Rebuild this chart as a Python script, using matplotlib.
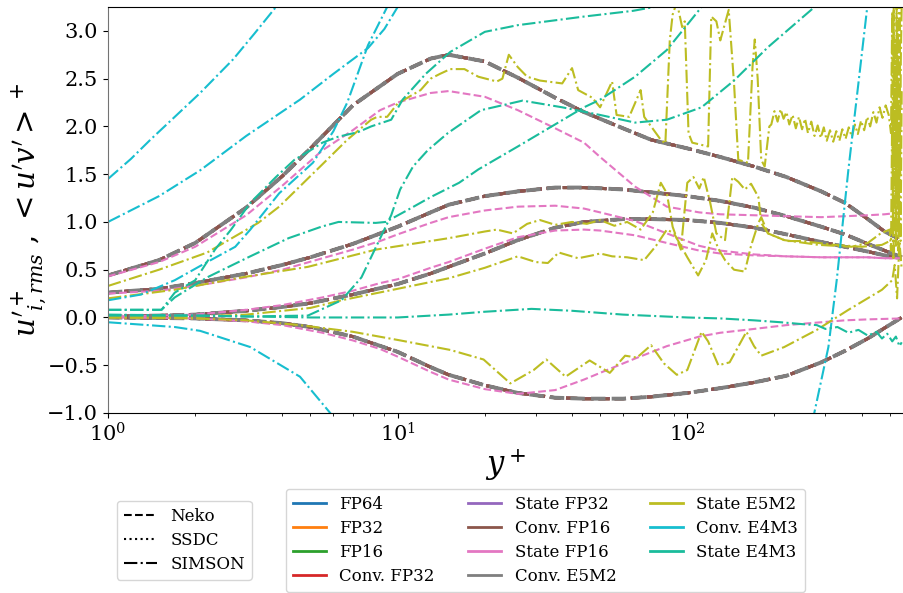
import matplotlib
matplotlib.use("Agg")
import matplotlib.pyplot as plt
from matplotlib.lines import Line2D

plt.rcParams['font.family'] = 'DejaVu Serif'
plt.rcParams['mathtext.fontset'] = 'dejavuserif'

# reference profiles (FP64 ... Conv. E5M2 all collapse on these)
yp_base = [1, 1.5, 2, 3, 4, 5, 7, 10, 13, 15, 20, 26, 35, 44, 60, 75, 100, 130, 170, 220, 290, 350, 420, 480, 550]
u_base = [0.44, 0.60, 0.78, 1.15, 1.48, 1.77, 2.22, 2.55, 2.71, 2.75, 2.68, 2.51, 2.30, 2.15, 1.98, 1.86, 1.77,
          1.68, 1.58, 1.47, 1.32, 1.20, 1.03, 0.90, 0.81]
w_base = [0.26, 0.30, 0.36, 0.46, 0.55, 0.63, 0.77, 0.95, 1.10, 1.18, 1.27, 1.32, 1.36, 1.36, 1.34, 1.31, 1.27,
          1.22, 1.15, 1.06, 0.95, 0.87, 0.77, 0.70, 0.63]
v_base = [0.01, 0.02, 0.03, 0.07, 0.11, 0.15, 0.24, 0.35, 0.46, 0.53, 0.67, 0.81, 0.94, 1.00, 1.03, 1.03, 1.02,
          0.99, 0.94, 0.87, 0.79, 0.74, 0.69, 0.65, 0.62]
uv_base = [0.0, -0.005, -0.01, -0.03, -0.06, -0.10, -0.20, -0.36, -0.52, -0.60, -0.71, -0.79, -0.84, -0.85, -0.85,
           -0.83, -0.79, -0.74, -0.68, -0.61, -0.47, -0.35, -0.22, -0.11, 0.0]

# State FP16
yp_sf16 = [1, 1.5, 2, 3, 4, 5.5, 7, 8.7, 10, 13, 15, 20, 26, 35, 44, 50, 66, 85, 110, 130, 170, 220, 290, 350, 420, 480, 550]
u_sf16 = [0.43, 0.58, 0.74, 1.07, 1.38, 1.75, 1.96, 2.17, 2.25, 2.35, 2.37, 2.31, 2.17, 1.98, 1.83, 1.68, 1.37, 1.16,
          1.10, 1.08, 1.07, 1.06, 1.05, 1.06, 1.07, 1.08, 1.10]
w_sf16 = [0.25, 0.28, 0.33, 0.42, 0.50, 0.62, 0.71, 0.80, 0.87, 0.99, 1.05, 1.12, 1.16, 1.17, 1.14, 1.10, 1.01, 0.88,
          0.75, 0.70, 0.66, 0.64, 0.63, 0.63, 0.63, 0.62, 0.62]
v_sf16 = [0.01, 0.02, 0.03, 0.08, 0.13, 0.21, 0.28, 0.36, 0.40, 0.52, 0.58, 0.72, 0.84, 0.91, 0.92, 0.91, 0.86, 0.78,
          0.70, 0.67, 0.65, 0.64, 0.63, 0.63, 0.63, 0.62, 0.62]
uv_sf16 = [0.0, -0.005, -0.01, -0.04, -0.08, -0.16, -0.24, -0.33, -0.41, -0.57, -0.65, -0.75, -0.80, -0.76, -0.65,
           -0.58, -0.43, -0.30, -0.20, -0.16, -0.12, -0.08, -0.05, -0.03, -0.02, -0.015, -0.01]

# State E5M2
yp_se5_u = [1, 1.5, 2.2, 3.3, 3.9, 5.4, 6.7, 8.1, 8.5, 9.2, 10, 12, 13, 14, 15.2, 17, 19, 22, 23, 24.2, 26, 28, 31,
            37, 40, 42, 47, 50, 55, 57, 63, 69, 71, 81, 84, 87, 89, 92, 96, 98, 101, 104, 118, 121, 126, 130, 139,
            145, 150, 162, 168, 171, 175, 180, 185, 192,
            195, 200, 205, 210, 215, 220, 225, 231, 237, 243, 249, 255, 261, 268, 275, 282, 289, 296, 303, 311, 319,
            327, 335, 343, 352, 361, 370, 379, 388, 398, 408, 418, 428, 439, 450, 461, 472, 484, 496,
            505, 510, 513, 516, 519, 522, 525, 528, 531, 534, 537, 540, 543, 546, 550]
u_se5 = [0.33, 0.50, 0.68, 0.99, 1.16, 1.58, 1.86, 2.07, 2.10, 2.10, 2.24, 2.38, 2.50, 2.55, 2.60, 2.60, 2.52, 2.47,
         2.50, 2.75, 2.62, 2.52, 2.48, 2.45, 2.61, 2.38, 2.30, 2.20, 2.47, 2.12, 2.10, 2.38, 2.10, 1.86, 1.82, 2.90,
         3.17, 3.30, 3.04, 3.10, 1.93, 1.83, 1.79, 3.15, 3.10, 2.90, 3.22, 2.45, 1.65, 1.62, 2.63, 2.91, 2.50, 1.65,
         1.58, 2.00,
         2.02, 2.16, 2.05, 2.18, 2.08, 2.15, 2.02, 2.12, 1.98, 2.10, 1.97, 2.08, 1.93, 2.05, 1.90, 2.01, 1.88, 1.99,
         1.85, 1.96, 1.84, 1.95, 1.85, 1.97, 1.87, 1.99, 1.89, 2.02, 1.92, 2.06, 1.96, 2.10, 2.00, 2.15, 2.04, 2.20,
         2.09, 2.22, 2.12,
         1.93, 3.20, 0.90, 3.25, 1.60, 2.90, 0.75, 3.30, 1.20, 3.10, 0.90, 3.30, 1.50, 2.70, 3.30]
yp_se5_w = [1, 1.7, 2.9, 4.9, 8.4, 15, 20, 22, 25, 28, 31, 35, 40, 45, 50, 56, 62, 69, 76, 81, 85, 89, 95, 100, 105,
            110, 114, 120, 126, 135, 143, 150, 158, 166, 176, 180, 190, 216, 284, 369, 420, 465, 500,
            505, 510, 515, 520, 525, 530, 535, 540, 545, 550]
w_se5 = [0.20, 0.29, 0.42, 0.53, 0.71, 0.83, 0.90, 0.92, 0.88, 0.98, 1.02, 0.97, 1.00, 0.98, 1.02, 0.96, 1.00, 0.92,
         1.10, 1.41, 1.30, 0.95, 0.71, 1.41, 1.47, 1.35, 1.47, 1.20, 0.88, 0.81, 1.47, 1.42, 1.34, 1.40, 1.26, 0.99,
         0.88, 0.81, 0.76, 0.74, 0.78, 0.88, 0.92,
         0.70, 2.20, 0.60, 1.80, 0.90, 2.50, 0.70, 1.60, 0.80, 2.40]
yp_se5_v = [1, 2, 3, 5, 6.4, 10, 15, 20, 26, 30, 33, 36, 42, 47, 50, 55, 62, 71, 78, 85, 90, 100, 109, 116, 122,
            128, 135, 145, 158, 166, 176, 180, 190, 220, 248, 322, 400, 470, 500]
v_se5 = [0.0, 0.01, 0.03, 0.10, 0.18, 0.30, 0.41, 0.52, 0.64, 0.58, 0.57, 0.68, 0.62, 0.65, 0.67, 0.64, 0.63, 0.60,
         0.75, 0.92, 0.88, 0.63, 0.44, 0.60, 0.88, 0.72, 0.60, 0.50, 0.48, 0.75, 0.99, 1.05, 0.88, 0.80, 0.80, 0.76,
         0.74, 0.76, 0.80]
yp_se5_uv = [1, 2, 3, 4.6, 7, 10.2, 15.2, 19.8, 24.5, 29.5, 32.6, 38, 46, 54, 61, 67, 75, 83, 92, 100, 112, 118,
             128, 140, 160, 170, 180, 216, 280, 360, 470, 510, 520, 530, 540, 550]
uv_se5 = [0.0, -0.01, -0.03, -0.08, -0.15, -0.24, -0.34, -0.44, -0.69, -0.55, -0.44, -0.62, -0.45, -0.58, -0.40,
          -0.42, -0.29, -0.48, -0.60, -0.55, -0.15, -0.25, -0.50, -0.47, -0.15, -0.30, -0.40, -0.31, -0.13, 0.08,
          0.29, 0.39, 0.55, 0.20, 0.80, 0.50]

# Conv. E4M3
yp_ce4_a = [1, 1.2, 1.4, 1.7, 2.08, 2.7, 3.2, 3.8, 4.2]
a_ce4 = [1.45, 1.66, 1.86, 2.10, 2.35, 2.70, 2.97, 3.25, 3.45]
yp_ce4_b = [1, 1.5, 2.08, 3, 4.6, 6, 7.9, 9, 10, 11]
b_ce4 = [1.0, 1.27, 1.54, 1.9, 2.28, 2.55, 2.82, 3.02, 3.25, 3.5]
yp_ce4_c = [1, 1.3, 1.7, 2.2, 2.75, 3.1, 3.9, 5.1, 6.0, 6.7, 7.9, 9.2, 10]
c_ce4 = [0.18, 0.24, 0.39, 0.58, 0.74, 0.92, 1.30, 1.62, 1.95, 2.25, 2.85, 3.25, 3.5]
yp_ce4_d = [1, 1.7, 2.08, 3.1, 4.6, 5.85, 6.2]
d_ce4 = [-0.05, -0.10, -0.14, -0.31, -0.62, -1.0, -1.1]
yp_ce4_e = [270, 307, 328, 360, 420, 430]
e_ce4 = [-1.1, -0.31, 0.39, 1.55, 3.3, 3.6]

# State E4M3
yp_se4_u = [1, 1.53, 1.7, 2.0, 2.34, 2.66, 3.1, 3.8, 4.4, 5.0, 5.5, 6.2, 7.3, 8.1, 9.5, 10.4, 12.5, 15.2, 20, 26,
            44, 65, 80, 90]
u_se4 = [0.08, 0.08, 0.26, 0.39, 0.71, 0.92, 1.20, 1.47, 1.65, 1.75, 1.83, 1.89, 1.94, 2.0, 2.07, 2.28, 2.55, 2.78,
         2.99, 3.06, 3.15, 3.21, 3.26, 3.3]
yp_se4_w = [1, 1.53, 1.7, 2.2, 3.05, 4.2, 5.45, 6.25, 8.4, 9.1, 10.9, 13, 16.3, 19, 26, 44, 50, 66, 85, 112, 120]
w_se4 = [0.08, 0.08, 0.21, 0.42, 0.63, 0.83, 0.95, 1.0, 0.99, 1.0, 1.13, 1.26, 1.41, 1.55, 1.79, 2.2, 2.28, 2.52,
         2.8, 3.25, 3.35]
yp_se4_v = [1, 2, 3, 4.9, 6.4, 7.5, 9.5, 10.2, 11.3, 12.7, 14.9, 19.4, 27, 37, 50, 66, 85, 112, 145, 190, 275, 290]
v_se4 = [0.03, 0.02, 0.01, 0.02, 0.18, 0.42, 1.07, 1.34, 1.58, 1.75, 1.93, 2.17, 2.27, 2.2, 2.12, 2.04, 2.07, 2.2,
         2.48, 2.83, 3.25, 3.35]
yp_se4_uv = [1, 2, 5, 10, 15, 20, 29, 40, 60, 100, 130, 170, 210, 250, 280, 300, 330, 360, 390, 420, 450, 470,
             490, 510, 525, 540, 550]
uv_se4 = [0.02, 0.02, 0.0, 0.0, 0.03, 0.06, 0.09, 0.07, 0.03, 0.0, -0.01, -0.03, -0.05, -0.07, -0.08, -0.12, -0.10,
          -0.16, -0.13, -0.19, -0.15, -0.22, -0.17, -0.25, -0.20, -0.30, -0.26]

case_names = ['FP64', 'FP32', 'FP16', 'Conv. FP32', 'State FP32', 'Conv. FP16', 'State FP16',
              'Conv. E5M2', 'State E5M2', 'Conv. E4M3', 'State E4M3']
case_colors = ['#1f77b4', '#ff7f0e', '#2ca02c', '#d62728', '#9467bd', '#8c564b', '#e377c2',
               '#7f7f7f', '#bcbd22', '#17becf', '#1abc9c']

fig = plt.figure(figsize=(9.04, 5.93), dpi=100)
ax = fig.add_axes([108 / 904, 180 / 593, 796 / 904, 406 / 593])

# cases that sit on the reference profiles
base_cases = [0, 1, 2, 3, 4, 5, 7]
for k in base_cases:
    for prof in (u_base, w_base, v_base, uv_base):
        ax.plot(yp_base, prof, '--', color=case_colors[k], lw=2.8 if k == 7 else 2.2)

for prof in (u_sf16, w_sf16, v_sf16, uv_sf16):
    ax.plot(yp_sf16, prof, '--', color=case_colors[6], lw=1.5)

ax.plot(yp_se5_u, u_se5, '-.', color=case_colors[8], lw=1.5)
ax.plot(yp_se5_w, w_se5, '-.', color=case_colors[8], lw=1.5)
ax.plot(yp_se5_v, v_se5, '-.', color=case_colors[8], lw=1.5)
ax.plot(yp_se5_uv, uv_se5, '-.', color=case_colors[8], lw=1.5)

ax.plot(yp_ce4_a, a_ce4, '-.', color=case_colors[9], lw=1.5)
ax.plot(yp_ce4_b, b_ce4, '-.', color=case_colors[9], lw=1.5)
ax.plot(yp_ce4_c, c_ce4, '-.', color=case_colors[9], lw=1.5)
ax.plot(yp_ce4_d, d_ce4, '-.', color=case_colors[9], lw=1.5)
ax.plot(yp_ce4_e, e_ce4, '-.', color=case_colors[9], lw=1.5)

ax.plot(yp_se4_u, u_se4, '-.', color=case_colors[10], lw=1.5)
ax.plot(yp_se4_w, w_se4, '-.', color=case_colors[10], lw=1.5)
ax.plot(yp_se4_v, v_se4, '-.', color=case_colors[10], lw=1.5)
ax.plot(yp_se4_uv, uv_se4, '-.', color=case_colors[10], lw=1.5)

ax.set_xscale('log')
ax.set_xlim(1, 560)
ax.set_ylim(-1.0, 3.25)
ax.set_yticks([-1.0, -0.5, 0.0, 0.5, 1.0, 1.5, 2.0, 2.5, 3.0])
ax.tick_params(labelsize=15)
ax.spines['right'].set_visible(False)
ax.spines['left'].set_color('0.45')
ax.set_xlabel(r'$y^+$', fontsize=22, labelpad=0)
ax.set_ylabel(r"$u'^+_{i,rms}$ , $<u'v'>^+$", fontsize=21, labelpad=-1)

# legends
style_handles = [Line2D([], [], color='k', ls='--'), Line2D([], [], color='k', ls=':'),
                 Line2D([], [], color='k', ls='-.')]
fig.legend(style_handles, ['Neko', 'SSDC', 'SIMSON'], loc='upper left',
           bbox_to_anchor=(117 / 904, 1 - 501 / 593), borderaxespad=0, fontsize=12, labelspacing=0.43)

color_handles = [Line2D([], [], color=c, lw=2) for c in case_colors]
fig.legend(color_handles, case_names, loc='upper left', ncol=3,
           bbox_to_anchor=(286 / 904, 1 - 489 / 593), borderaxespad=0, fontsize=12, labelspacing=0.43)

fig.savefig('out.png', dpi=100)
